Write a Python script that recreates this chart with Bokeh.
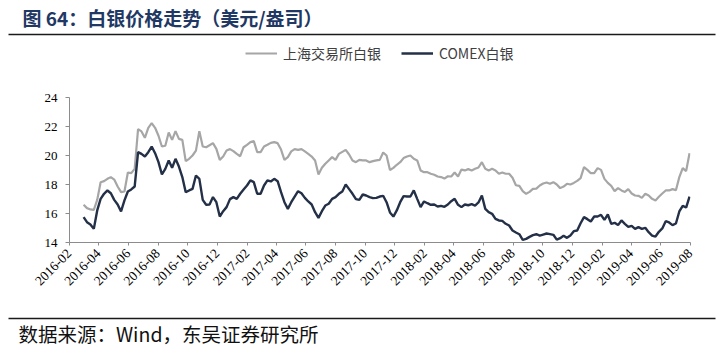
import math
import pandas as pd
from bokeh.plotting import figure
from bokeh.models import Range1d, FixedTicker, Legend, LegendItem, DatetimeTickFormatter
from bokeh.layouts import column, row
from bokeh.embed import file_html
from bokeh.resources import INLINE
from bokeh.core.properties import value

# ---------------- data ----------------
title_text = "图 64：白银价格走势（美元/盎司）"
source_text = "数据来源：Wind，东吴证券研究所"
series_names = ["上海交易所白银", "COMEX白银"]
tick_labels = ["2016-02", "2016-04", "2016-06", "2016-08", "2016-10", "2016-12",
               "2017-02", "2017-04", "2017-06", "2017-08", "2017-10", "2017-12",
               "2018-02", "2018-04", "2018-06", "2018-08", "2018-10", "2018-12",
               "2019-02", "2019-04", "2019-06", "2019-08"]
y_ticks = [14, 16, 18, 20, 22, 24]
x_start, x_end = "2016-02-01", "2019-08-01"
first_reading = "2016-03-01"

shfe = [16.60, 16.37, 16.28, 16.25, 16.94, 18.16, 18.23, 18.39, 18.51, 18.34,
        17.86, 17.47, 17.52, 18.83, 18.78, 19.08, 21.82, 21.66, 21.22, 21.91,
        22.23, 21.91, 21.36, 20.62, 20.67, 21.59, 21.08, 21.68, 21.15, 21.08,
        19.61, 19.77, 20.00, 20.34, 21.68, 20.62, 20.57, 20.71, 20.85, 20.46,
        19.70, 19.93, 20.34, 20.44,
        20.30, 20.11, 19.95, 20.57, 20.74, 20.92, 20.99, 20.23, 20.23, 20.62,
        20.74, 20.87, 20.92, 20.85, 20.41, 19.70, 19.89, 20.28, 20.44, 20.39,
        20.44, 20.28, 20.11, 19.93, 19.66, 18.69, 19.15, 19.43, 19.66, 19.89,
        19.70, 20.11, 20.25, 20.39, 20.07, 19.66, 19.54, 19.70, 19.66, 19.66,
        19.54, 19.61, 19.66, 19.70, 20.21, 20.00, 19.00,
        19.15, 19.36, 19.54, 19.82, 19.93, 20.00, 19.77, 19.66, 18.97, 18.85,
        18.85, 18.74, 18.67, 18.55, 18.51, 18.41, 18.57, 18.55, 18.83, 18.55,
        19.03, 18.97, 19.06, 18.97, 19.08, 19.17, 19.54, 19.08, 18.97, 19.08,
        18.97, 18.74, 18.83, 18.74, 18.74, 18.46, 17.95, 17.91, 17.54, 17.36,
        17.49, 17.70, 17.72, 17.93, 18.07, 18.14, 18.05,
        18.16, 18.00, 17.75, 17.86, 18.05, 18.00, 18.11, 18.25, 18.44, 19.20,
        19.01, 18.78, 18.78, 19.13, 19.01, 18.39, 18.11, 17.91, 17.54, 17.75,
        17.59, 17.49, 17.68, 17.38, 17.24, 17.22, 17.08, 17.36, 17.24, 17.01,
        16.90, 17.15, 17.38, 17.59, 17.59, 17.68, 17.61, 18.51, 19.13, 18.92,
        20.16]

comex = [15.75, 15.40, 15.24, 14.94, 16.21, 17.01, 17.36, 17.59, 17.40, 16.94,
         16.62, 16.14, 16.90, 17.52, 17.66, 17.86, 20.23, 20.11, 19.93, 20.23,
         20.62, 20.16, 19.54, 18.69, 19.08, 19.66, 19.15, 19.77, 19.24, 18.51,
         17.47, 17.59, 17.70, 18.62, 18.39, 16.94, 16.60, 16.62, 17.13, 16.78,
         15.79, 16.16, 16.44, 16.99,
         17.13, 17.01, 17.36, 17.66, 17.93, 18.28, 18.16, 17.36, 17.36, 17.93,
         18.28, 18.21, 18.39, 18.23, 17.47, 16.78, 16.32, 16.78, 17.17, 17.54,
         17.40, 17.08, 16.83, 16.62, 16.09, 15.70, 16.16, 16.55, 16.67, 17.01,
         17.13, 17.36, 17.52, 18.00, 17.68, 17.36, 16.99, 16.94, 17.31, 17.24,
         17.13, 17.06, 17.08, 17.17, 17.22, 16.78, 16.07,
         15.79, 16.21, 16.78, 17.20, 17.17, 17.17, 17.59, 17.01, 16.44, 16.83,
         16.71, 16.60, 16.62, 16.48, 16.53, 16.46, 16.62, 16.85, 17.01, 16.60,
         16.44, 16.62, 16.57, 16.64, 16.55, 16.76, 17.24, 16.32, 16.09, 15.98,
         15.63, 15.52, 15.49, 15.29, 15.17, 14.83, 14.69, 14.57, 14.18, 14.25,
         14.39, 14.51, 14.57, 14.48, 14.55, 14.62, 14.58,
         14.53, 14.20, 14.30, 14.46, 14.32, 14.48, 14.78, 14.83, 15.33, 15.75,
         15.61, 15.45, 15.79, 15.79, 15.91, 15.56, 15.93, 15.29, 15.36, 15.20,
         15.52, 15.29, 15.08, 15.15, 14.94, 15.06, 14.94, 15.01, 14.71, 14.48,
         14.41, 14.74, 14.97, 15.47, 15.38, 15.20, 15.31, 16.14, 16.53, 16.41,
         17.17]

dates = pd.date_range(first_reading, periods=len(shfe), freq="7D")
tick_ms = [pd.Timestamp(t + "-01").value // 10**6 for t in tick_labels]

W = 722
CJK = "Noto Sans CJK SC"
SERIF = "Liberation Serif"
GRAY = "#A6A6A6"
NAVY = "#233047"


def blank(h):
    f = figure(width=W, height=h, x_range=Range1d(0, W), y_range=Range1d(h, 0),
               output_backend="svg", toolbar_location=None,
               x_axis_location=None, y_axis_location=None,
               min_border_left=0, min_border_right=0, min_border_top=0, min_border_bottom=0)
    f.grid.visible = False
    f.outline_line_color = None
    return f


# ---------------- header: title, rule, legend ----------------
head = blank(89)
head.text(x=[22], y=[17], text=[title_text], text_font=value(CJK),
          text_font_style="bold", text_font_size="19px", text_color="#1F3864",
          text_align="left", text_baseline="middle")
head.segment(x0=[8], y0=[34], x1=[715], y1=[34], line_color="#1a1a1a", line_width=1.3)
# legend keys (drawn off-canvas; only their styles are used by the legend)
k1 = head.line(x=[-60, -50], y=[-60, -60], line_color=GRAY, line_width=2.2)
k2 = head.line(x=[-60, -50], y=[-60, -60], line_color=NAVY, line_width=2.4)
legend = Legend(items=[LegendItem(label=series_names[0], renderers=[k1]),
                       LegendItem(label=series_names[1], renderers=[k2])],
                location=(245, 26), orientation="horizontal",
                label_text_font=CJK, label_text_font_size="14px",
                label_text_color="#404040", glyph_width=32, glyph_height=20,
                label_height=20, label_standoff=6, spacing=20, padding=0, margin=0,
                border_line_color=None, background_fill_alpha=0)
head.add_layout(legend)

# ---------------- main chart ----------------
p = figure(width=W, height=211, x_axis_type="datetime",
           x_range=Range1d(pd.Timestamp(x_start), pd.Timestamp(x_end)),
           y_range=Range1d(14, 24),
           output_backend="svg", toolbar_location=None,
           min_border_left=69, min_border_right=32, min_border_top=8, min_border_bottom=58)
p.outline_line_color = None
p.grid.visible = False

p.line(dates, shfe, line_color=GRAY, line_width=2.2)
p.line(dates, comex, line_color=NAVY, line_width=2.4)

axis_col = "#8C8C8C"
p.yaxis.ticker = FixedTicker(ticks=y_ticks)
p.yaxis.axis_line_color = axis_col
p.yaxis.major_tick_line_color = axis_col
p.yaxis.major_tick_out = 4
p.yaxis.major_tick_in = 0
p.yaxis.minor_tick_line_color = None
p.yaxis.major_label_standoff = 8
p.yaxis.major_label_text_font = SERIF
p.yaxis.major_label_text_font_size = "13px"
p.yaxis.major_label_text_color = "#000000"

fmt = "%Y-%m"
p.xaxis.ticker = FixedTicker(ticks=tick_ms)
p.xaxis.formatter = DatetimeTickFormatter(years=fmt, months=fmt, days=fmt, hours=fmt,
                                          minutes=fmt, seconds=fmt, milliseconds=fmt)
p.xaxis.major_label_orientation = math.pi / 4
p.xaxis.axis_line_color = axis_col
p.xaxis.major_tick_line_color = axis_col
p.xaxis.major_tick_out = 3
p.xaxis.major_tick_in = 0
p.xaxis.minor_tick_line_color = None
p.xaxis.major_label_standoff = 6
p.xaxis.major_label_text_font = SERIF
p.xaxis.major_label_text_font_size = "13.5px"
p.xaxis.major_label_text_color = "#000000"

# ---------------- footer ----------------
foot = blank(62)
foot.segment(x0=[8], y0=[18], x1=[715], y1=[18], line_color="#1a1a1a", line_width=1.3)
foot.text(x=[18], y=[33], text=[source_text], text_font=value(CJK),
          text_font_size="19.5px", text_color="#111111",
          text_align="left", text_baseline="middle")

layout = column(row(head), p, row(foot))
open("out.html", "w").write(file_html(layout, INLINE))
